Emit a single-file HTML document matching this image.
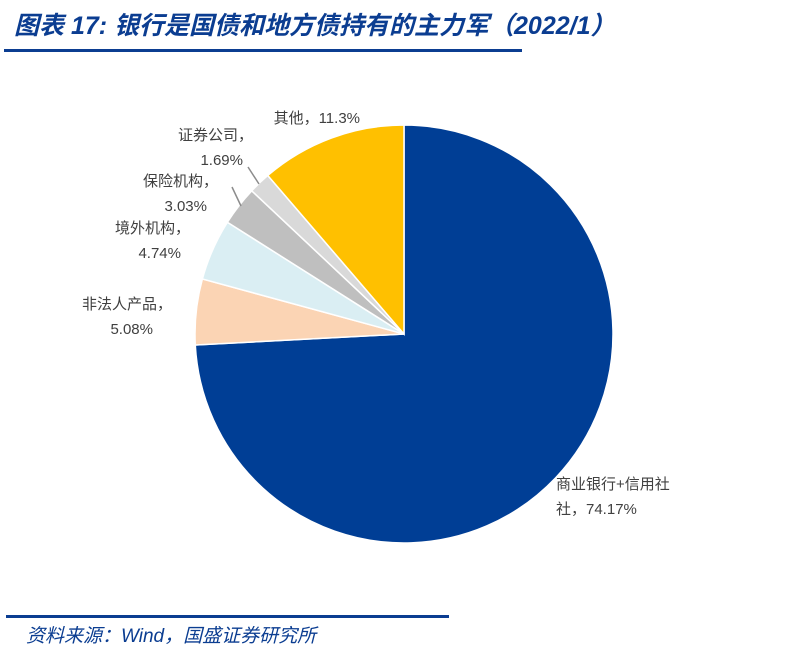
<!DOCTYPE html>
<html><head><meta charset="utf-8"><style>
body{margin:0;background:#fff;width:803px;height:652px;overflow:hidden;position:relative;font-family:"Liberation Sans","Noto Sans CJK SC",sans-serif}
.title{position:absolute;left:14px;top:6px;font-size:25px;font-weight:bold;font-style:italic;color:#0B3D91;white-space:nowrap}
.rule{position:absolute;background:#0B3D91}
.src{position:absolute;left:26px;top:621px;font-size:19px;font-style:italic;color:#0B3D91;white-space:nowrap}
svg{position:absolute;left:0;top:0}
</style></head><body>
<div class="title">图表 17:  银行是国债和地方债持有的主力军（2022/1）</div>
<div class="rule" style="left:4px;top:49px;width:518px;height:3px"></div>
<div class="rule" style="left:6px;top:615px;width:443px;height:3px"></div>
<div class="src">资料来源：Wind，国盛证券研究所</div>
<svg id="chart" width="803" height="652"></svg>
<script>
const categories=["商业银行+信用社","非法人产品","境外机构","保险机构","证券公司","其他"];
const values=[74.17,5.08,4.74,3.03,1.69,11.3];
const valueLabels=["74.17%","5.08%","4.74%","3.03%","1.69%","11.3%"];
const colors=["#003E95","#FBD4B4","#DAEEF3","#BFBFBF","#D9D9D9","#FFC000"];
const names=["slice-banks","slice-non-legal-products","slice-foreign","slice-insurance","slice-securities","slice-other"];
const cx=404,cy=334,r=209;
const svg=document.getElementById('chart');
const NS='http://www.w3.org/2000/svg';
const total=values.reduce((a,b)=>a+b,0);
function pt(a,rr){return [cx+rr*Math.sin(a),cy-rr*Math.cos(a)];}
let acc=0;
values.forEach((v,i)=>{
 const a0=acc/total*2*Math.PI;acc+=v;const a1=acc/total*2*Math.PI;
 const p0=pt(a0,r),p1=pt(a1,r);const large=(a1-a0)>Math.PI?1:0;
 const p=document.createElementNS(NS,'path');
 p.setAttribute('d',`M${cx},${cy}L${p0[0]},${p0[1]}A${r},${r} 0 ${large} 1 ${p1[0]},${p1[1]}Z`);
 p.setAttribute('fill',colors[i]);p.setAttribute('stroke','#fff');p.setAttribute('stroke-width','1.5');
 
 
 svg.appendChild(p);
});
// leader lines
[[248,167,259,184],[232,187,241,206]].forEach((l,i)=>{
 const ln=document.createElementNS(NS,'line');
 ln.setAttribute('x1',l[0]);ln.setAttribute('y1',l[1]);ln.setAttribute('x2',l[2]);ln.setAttribute('y2',l[3]);
 ln.setAttribute('stroke','#8c8c8c');ln.setAttribute('stroke-width','1.5');
 
 
 svg.appendChild(ln);
});
// labels: [index, lines, anchor x, y's, anchor]
const labelPos=[
 [0,[categories[0],"社，"+valueLabels[0]],[556,556],[489,514],'start'],
 [1,[categories[1]+"，",valueLabels[1]],[172,153],[309,334],'end'],
 [2,[categories[2]+"，",valueLabels[2]],[190,181],[233,258],'end'],
 [3,[categories[3]+"，",valueLabels[3]],[218,207],[186,211],'end'],
 [4,[categories[4]+"，",valueLabels[4]],[253,243],[140,165],'end'],
 [5,[categories[5]+"，"+valueLabels[5]],[360],[123],'end']
];
labelPos.forEach(L=>{
 L[1].forEach((s,j)=>{
  const t=document.createElementNS(NS,'text');
  t.setAttribute('x',L[2][j]);t.setAttribute('y',L[3][j]);
  t.setAttribute('text-anchor',L[4]);t.setAttribute('font-size','15');t.setAttribute('fill','#404040');
  t.textContent=s;
  
  
  svg.appendChild(t);
 });
});
</script>
</body></html>
